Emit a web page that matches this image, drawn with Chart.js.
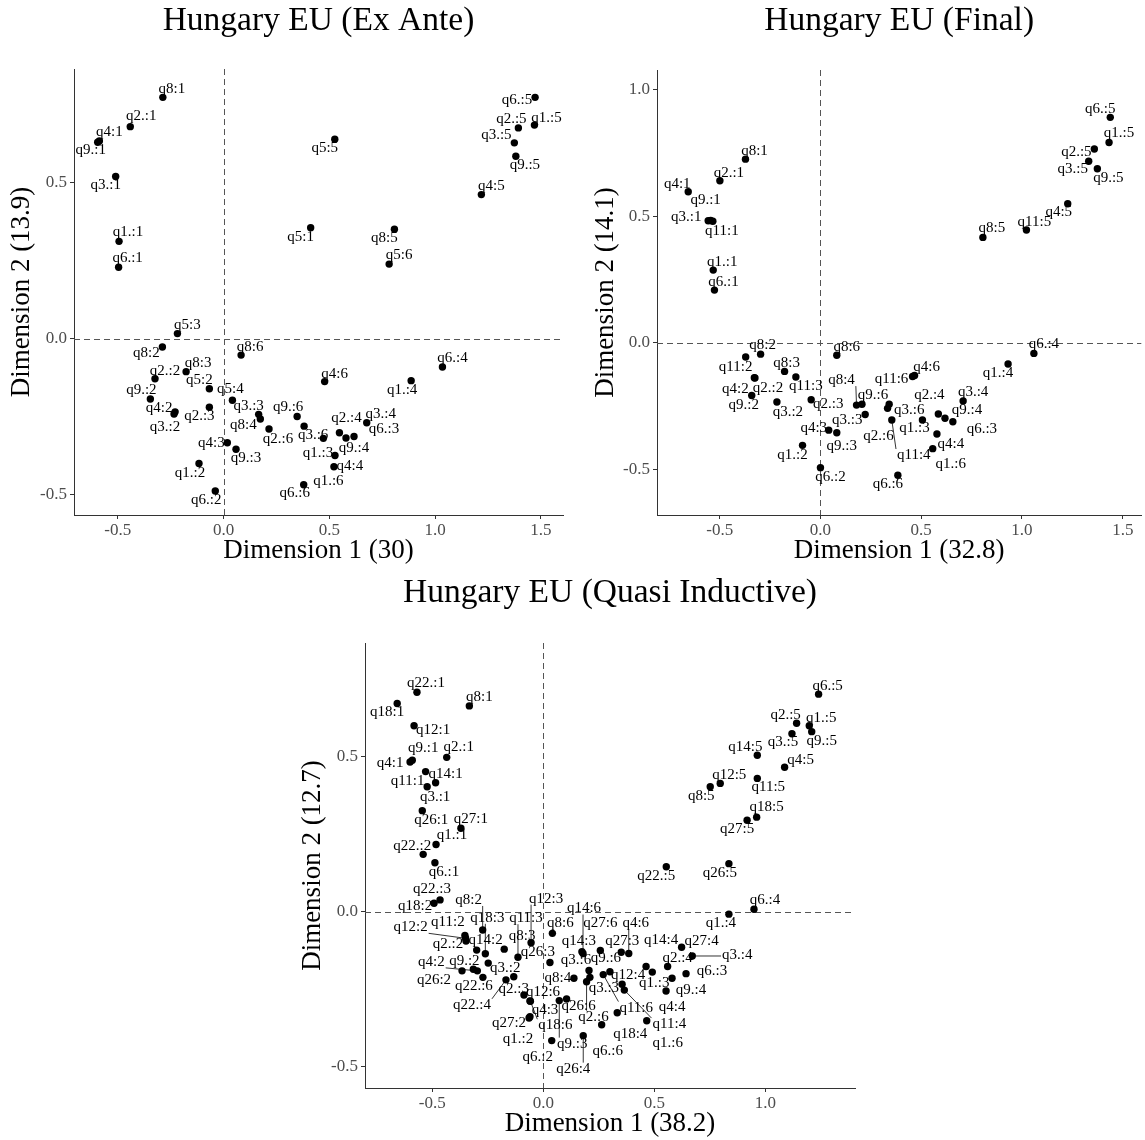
<!DOCTYPE html>
<html>
<head>
<meta charset="utf-8">
<script src="https://cdn.jsdelivr.net/npm/chart.js@4/dist/chart.umd.min.js"></script>
<style>
  html, body { margin: 0; padding: 0; background: #fff; }
  body { width: 1145px; height: 1140px; position: relative; overflow: hidden; }
  canvas { position: absolute; display: block; }
</style>
</head>
<body>
<canvas id="exAnte" width="575" height="575" style="left:0px;top:0px;width:575px;height:575px"></canvas>
<canvas id="final" width="560" height="575" style="left:585px;top:0px;width:560px;height:575px"></canvas>
<canvas id="quasi" width="570" height="565" style="left:290px;top:575px;width:570px;height:565px"></canvas>
<script>
// ---------- Hungary EU (Ex Ante) ----------
const exAnteNames = [
  "q1.:1","q1.:2","q1.:3","q1.:4","q1.:5","q1.:6",
  "q2.:1","q2.:2","q2.:3","q2.:4","q2.:5","q2.:6",
  "q3.:1","q3.:2","q3.:3","q3.:4","q3.:5","q3.:6",
  "q4:1","q4:2","q4:3","q4:4","q4:5","q4:6",
  "q5:1","q5:2","q5:3","q5:4","q5:5","q5:6",
  "q6.:1","q6.:2","q6.:3","q6.:4","q6.:5","q6.:6",
  "q8:1","q8:2","q8:3","q8:4","q8:5","q8:6",
  "q9.:1","q9.:2","q9.:3","q9.:4","q9.:5","q9.:6"
];
const exAnteDim1 = [
  -0.494,-0.116, 0.527, 0.887, 1.470, 0.472,
  -0.441,-0.324,-0.067, 0.548, 1.394, 0.215,
  -0.510,-0.234, 0.166, 0.677, 1.375, 0.381,
  -0.587,-0.229, 0.018, 0.522, 1.219, 0.478,
   0.412,-0.067,-0.218, 0.042, 0.526, 0.783,
  -0.496,-0.039, 0.617, 1.035, 1.473, 0.379,
  -0.287,-0.289,-0.177, 0.174, 0.808, 0.083,
  -0.595,-0.346, 0.059, 0.579, 1.382, 0.348
];
const exAnteDim2 = [
   0.312,-0.401,-0.375,-0.135, 0.685,-0.320,
   0.680,-0.129,-0.220,-0.302, 0.676,-0.290,
   0.520,-0.242,-0.243,-0.270, 0.628,-0.281,
   0.634,-0.235,-0.334,-0.411, 0.462,-0.138,
   0.356,-0.161, 0.016,-0.198, 0.640, 0.239,
   0.229,-0.489,-0.314,-0.091, 0.774,-0.469,
   0.774,-0.027,-0.106,-0.258, 0.351,-0.053,
   0.630,-0.194,-0.355,-0.319, 0.585,-0.250
];
const exAnteXTicks = [-0.5, 0.0, 0.5, 1.0, 1.5];
const exAnteYTicks = [-0.5, 0.0, 0.5];

// ---------- Hungary EU (Final) ----------
const finalNames = [
  "q1.:1","q1.:2","q1.:3","q1.:4","q1.:5","q1.:6",
  "q2.:1","q2.:2","q2.:3","q2.:4","q2.:5","q2.:6",
  "q3.:1","q3.:2","q3.:3","q3.:4","q3.:5","q3.:6",
  "q4:1","q4:2","q4:3","q4:4","q4:5","q4:6",
  "q6.:1","q6.:2","q6.:3","q6.:4","q6.:5","q6.:6",
  "q8:1","q8:2","q8:3","q8:4","q8:5","q8:6",
  "q9.:1","q9.:2","q9.:3","q9.:4","q9.:5","q9.:6",
  "q11:1","q11:2","q11:3","q11:4","q11:5","q11:6"
];
const finalDim1 = [
  -0.532,-0.089, 0.506, 0.931, 1.432, 0.557,
  -0.499,-0.325,-0.046, 0.585, 1.359, 0.333,
  -0.557,-0.216, 0.222, 0.708, 1.331, 0.341,
  -0.656,-0.328, 0.041, 0.578, 1.227, 0.467,
  -0.526, 0.000, 0.657, 1.059, 1.438, 0.384,
  -0.372,-0.297,-0.178, 0.179, 0.806, 0.081,
  -0.545,-0.341, 0.081, 0.618, 1.374, 0.206,
  -0.534,-0.371,-0.122, 0.354, 1.022, 0.457
];
const finalDim2 = [
   0.287,-0.405,-0.305,-0.084, 0.791,-0.418,
   0.640,-0.139,-0.225,-0.281, 0.765,-0.259,
   0.482,-0.234,-0.283,-0.230, 0.717,-0.243,
   0.596,-0.138,-0.345,-0.360, 0.549,-0.129,
   0.208,-0.493,-0.312,-0.042, 0.890,-0.523,
   0.725,-0.045,-0.113,-0.246, 0.416,-0.049,
   0.483,-0.208,-0.355,-0.298, 0.687,-0.243,
   0.480,-0.056,-0.135,-0.305, 0.445,-0.133
];
const finalXTicks = [-0.5, 0.0, 0.5, 1.0, 1.5];
const finalYTicks = [-0.5, 0.0, 0.5, 1.0];

// ---------- Hungary EU (Quasi Inductive) ----------
const quasiNames = [
  "q1.:1","q1.:2","q1.:3","q1.:4","q1.:5","q1.:6",
  "q2.:1","q2.:2","q2.:3","q2.:4","q2.:5","q2.:6",
  "q3.:1","q3.:2","q3.:3","q3.:4","q3.:5","q3.:6",
  "q4:1","q4:2","q4:3","q4:4","q4:5","q4:6",
  "q6.:1","q6.:2","q6.:3","q6.:4","q6.:5","q6.:6",
  "q8:1","q8:2","q8:3","q8:4","q8:5","q8:6",
  "q9.:1","q9.:2","q9.:3","q9.:4","q9.:5","q9.:6",
  "q11:1","q11:2","q11:3","q11:4","q11:5","q11:6",
  "q12:1","q12:2","q12:3","q12:4","q12:5","q12:6",
  "q14:1","q14:2","q14:3","q14:4","q14:5","q14:6",
  "q18:1","q18:2","q18:3","q18:4","q18:5","q18:6",
  "q22.:1","q22.:2","q22.:3","q22.:4","q22.:5","q22.:6",
  "q26:1","q26:2","q26:3","q26:4","q26:5","q26:6",
  "q27:1","q27:2","q27:3","q27:4","q27:5","q27:6"
];
const quasiDim1 = [
  -0.483,-0.064, 0.491, 0.836, 1.198, 0.466,
  -0.435,-0.348,-0.133, 0.560, 1.141, 0.195,
  -0.523,-0.248, 0.210, 0.671, 1.120, 0.206,
  -0.600,-0.297,-0.060, 0.553, 1.087, 0.385,
  -0.488, 0.038, 0.643, 0.949, 1.240, 0.263,
  -0.333,-0.273,-0.176, 0.138, 0.752, 0.041,
  -0.590,-0.315, 0.072, 0.580, 1.209, 0.300,
  -0.530,-0.353,-0.114, 0.365, 0.964, 0.270,
  -0.582,-0.350,-0.055, 0.355, 0.797,-0.087,
  -0.485,-0.300, 0.174, 0.463, 0.964, 0.179,
  -0.658,-0.492,-0.261, 0.333, 0.961,-0.058,
  -0.569,-0.541,-0.465,-0.168, 0.554,-0.272,
  -0.545,-0.366, 0.030, 0.180, 0.836, 0.105,
  -0.371,-0.060, 0.351, 0.623, 0.918, 0.257
];
const quasiDim2 = [
   0.217,-0.343,-0.195,-0.008, 0.600,-0.352,
   0.498,-0.095,-0.210,-0.177, 0.608,-0.226,
   0.403,-0.166,-0.212,-0.143, 0.574,-0.190,
   0.483,-0.191,-0.288,-0.256, 0.466,-0.135,
   0.158,-0.416,-0.200, 0.008, 0.702,-0.365,
   0.664,-0.059,-0.121,-0.215, 0.403,-0.070,
   0.489,-0.186,-0.287,-0.215, 0.581,-0.194,
   0.452,-0.077,-0.147,-0.253, 0.430,-0.203,
   0.600,-0.086,-0.100,-0.234, 0.414,-0.269,
   0.416,-0.124,-0.129,-0.177, 0.505,-0.135,
   0.672, 0.027,-0.136,-0.326, 0.305,-0.289,
   0.708, 0.185, 0.038,-0.220, 0.145,-0.212,
   0.326,-0.191,-0.164,-0.400, 0.155,-0.282,
   0.269,-0.339,-0.131,-0.115, 0.295,-0.125
];
const quasiXTicks = [-0.5, 0.0, 0.5, 1.0];
const quasiYTicks = [-0.5, 0.0, 0.5];

// ---------- text placement of the point labels (pixel shift from each point; third entry = leader line) ----------
const exAnteNudge = [
  [9,-9],[-9,9],[-17,-2],[-9,9],[12,-7],[5,43],
  [11,-11],[10,-8],[-10,9],[7,-15],[-7,-9],[9,10],
  [-10,9],[-9,13],[-10,-8],[14,-9],[-18,-8],[9,9],
  [10,-9],[-16,-4],[-16,0],[16,-1],[10,-9],[10,-8],
  [-10,9],[-10,-9],[10,-9],[-2,-11],[-10,9],[10,-9],
  [9,-9],[-9,9],[30,-7],[10,-9],[-18,3],[-9,8],
  [9,-8],[-16,6],[12,-9],[-17,6],[-10,9],[9,-8],
  [-7,8],[-9,-9],[10,9],[8,10],[9,9],[-9,-9]
];
const finalNudge = [
  [9,-8],[-10,10],[-8,8],[-10,9],[10,-9],[18,15],
  [9,-8],[13,10],[17,4],[-9,-19],[-18,3],[-9,28],
  [-22,-4],[11,10],[-18,6],[10,-9],[-16,8],[20,6],
  [-11,-8],[-19,11],[-15,-2],[14,10],[-9,8],[12,-8],
  [9,-8],[10,9],[29,7],[10,-9],[-10,-8],[-10,9],
  [9,-8],[2,-9],[2,-8],[-15,-25,1],[9,-9],[10,-8],
  [-5,-20],[-8,10],[5,13],[22,-8],[11,9],[11,-9],
  [9,10],[-10,10],[10,9],[22,35,1],[8,-8],[-21,3]
];
const quasiNudge = [
  [16,-9],[-11,21],[2,11],[-8,9],[12,-8],[21,22],
  [12,-10],[-18,3],[0,12],[10,-8],[-11,-8],[7,35,1],
  [8,10],[17,5],[14,11],[45,-1,1],[-9,8],[-13,-10],
  [-20,1],[-46,-9,1],[15,9],[6,16],[16,-7],[7,-30,1],
  [9,9],[-14,16],[26,-3],[11,-9],[9,-8],[6,26],
  [10,-9],[-14,-30,1],[18,-13],[-16,0],[-9,9],[8,-10],
  [11,-12],[-9,-8],[13,43,1],[19,12],[10,9],[-4,-14],
  [-18,9],[-17,-13],[8,-39,1],[45,34,1],[11,9],[33,33,1],
  [19,4],[-55,-11,1],[15,-44,1],[6,-9],[9,-8],[19,-3],
  [10,-9],[9,-10],[-3,-11],[15,-26],[-12,-8],[1,-45,1],
  [-10,9],[-19,3],[2,-36,1],[13,21],[10,-10],[25,24,1],
  [9,-9],[-11,-8],[-8,-11],[-34,25,1],[-10,9],[-9,9],
  [9,9],[-28,9],[-12,-10],[-10,33,1],[-9,9],[12,7],
  [10,-9],[-21,6],[1,-11],[20,-6],[-10,9],[0,-27]
];

const SERIF = "'Liberation Serif', 'Times New Roman', serif";

// dashed reference lines through the origin
const originLines = {
  id: 'originLines',
  beforeDatasetsDraw(chart) {
    const { ctx, chartArea: a, scales: { x, y } } = chart;
    const x0 = Math.round(x.getPixelForValue(0)) + 0.5;
    const y0 = Math.round(y.getPixelForValue(0)) + 0.5;
    ctx.save();
    ctx.strokeStyle = '#555';
    ctx.lineWidth = 1;
    ctx.setLineDash([6, 4]);
    ctx.beginPath();
    ctx.moveTo(x0, a.top); ctx.lineTo(x0, a.bottom);
    ctx.moveTo(a.left, y0); ctx.lineTo(a.right, y0);
    ctx.stroke();
    ctx.restore();
  }
};

// text label beside every point, with an optional leader line
const pointLabels = {
  id: 'pointLabels',
  afterDatasetsDraw(chart, args, opts) {
    const ctx = chart.ctx;
    const meta = chart.getDatasetMeta(0);
    ctx.save();
    ctx.font = '15px ' + SERIF;
    ctx.textAlign = 'center';
    ctx.textBaseline = 'middle';
    meta.data.forEach((pt, i) => {
      const [dx, dy, lead] = opts.nudges[i];
      const cx = pt.x + dx, cy = pt.y + dy;
      const txt = opts.names[i];
      if (lead) {
        const hw = ctx.measureText(txt).width / 2 + 1, hh = 6;
        const nx = Math.max(cx - hw, Math.min(pt.x, cx + hw));
        const ny = Math.max(cy - hh, Math.min(pt.y, cy + hh));
        ctx.beginPath();
        ctx.moveTo(pt.x, pt.y);
        ctx.lineTo(nx, ny);
        ctx.strokeStyle = '#000';
        ctx.lineWidth = 0.8;
        ctx.stroke();
      }
      ctx.fillStyle = '#000';
      ctx.fillText(txt, cx, cy);
    });
    ctx.restore();
  }
};

function axisStyle(tickValues, min, max, fixed, isX, titleText, titlePad) {
  return {
    type: 'linear',
    position: isX ? 'bottom' : 'left',
    min: min, max: max,
    afterBuildTicks(s) { s.ticks = tickValues.map(v => ({ value: v })); },
    afterFit(s) { if (isX) s.height = fixed; else s.width = fixed; },
    ticks: {
      autoSkip: false, maxRotation: 0, padding: isX ? 1 : 3,
      color: '#4d4d4d',
      font: { family: SERIF, size: 17 },
      callback: v => Number(v).toFixed(1)
    },
    grid: { display: true, drawOnChartArea: false, drawTicks: true, tickLength: 4, tickColor: '#333', tickWidth: 1 },
    border: { display: true, color: '#333', width: 1 },
    title: {
      display: true, text: titleText, color: '#000',
      font: { family: SERIF, size: 27, lineHeight: 1.2 },
      padding: titlePad
    }
  };
}

function buildPanel(id, p) {
  return new Chart(document.getElementById(id), {
    type: 'scatter',
    data: {
      datasets: [{
        data: p.dim1.map((v, i) => ({ x: v, y: p.dim2[i] })),
        pointRadius: 3.7, pointHoverRadius: 3.7,
        backgroundColor: '#000', borderWidth: 0
      }]
    },
    options: {
      responsive: false, animation: false, events: [],
      layout: { padding: { left: 0, right: p.padRight, top: 0, bottom: 0 } },
      plugins: {
        legend: { display: false },
        tooltip: { enabled: false },
        title: {
          display: true, text: p.title, color: '#000', fullSize: false,
          font: { family: SERIF, size: 33.5, weight: 'normal', lineHeight: 1.0 },
          padding: { top: p.titleTop, bottom: p.titleBottom }
        },
        pointLabels: { names: p.names, nudges: p.nudges }
      },
      scales: {
        x: axisStyle(p.xTicks, p.xMin, p.xMax, p.bottomH, true, p.xTitle, { top: 0, bottom: p.xTitlePad }),
        y: axisStyle(p.yTicks, p.yMin, p.yMax, p.leftW, false, p.yTitle, { top: p.yTitlePad, bottom: 0 })
      }
    },
    plugins: [originLines, pointLabels]
  });
}

buildPanel('exAnte', {
  names: exAnteNames, dim1: exAnteDim1, dim2: exAnteDim2, nudges: exAnteNudge,
  xTicks: exAnteXTicks, yTicks: exAnteYTicks,
  xMin: -0.707, xMax: 1.605, yMin: -0.566, yMax: 0.865,
  title: 'Hungary EU (Ex Ante)', xTitle: 'Dimension 1 (30)', yTitle: 'Dimension 2 (13.9)',
  padRight: 12, leftW: 74, bottomH: 60, titleTop: 4.25, titleBottom: 31.25,
  xTitlePad: 7.8, yTitlePad: 5.8
});

buildPanel('final', {
  names: finalNames, dim1: finalDim1, dim2: finalDim2, nudges: finalNudge,
  xTicks: finalXTicks, yTicks: finalYTicks,
  xMin: -0.811, xMax: 1.592, yMin: -0.680, yMax: 1.077,
  title: 'Hungary EU (Final)', xTitle: 'Dimension 1 (32.8)', yTitle: 'Dimension 2 (14.1)',
  padRight: 2, leftW: 72, bottomH: 60, titleTop: 4.25, titleBottom: 32.25,
  xTitlePad: 7.8, yTitlePad: 4.8
});

buildPanel('quasi', {
  names: quasiNames, dim1: quasiDim1, dim2: quasiDim2, nudges: quasiNudge,
  xTicks: quasiXTicks, yTicks: quasiYTicks,
  xMin: -0.803, xMax: 1.404, yMin: -0.569, yMax: 0.867,
  title: 'Hungary EU (Quasi Inductive)', xTitle: 'Dimension 1 (38.2)', yTitle: 'Dimension 2 (12.7)',
  padRight: 5, leftW: 75, bottomH: 52, titleTop: 1.25, titleBottom: 33.25,
  xTitlePad: 0, yTitlePad: 6.8
});
</script>
</body>
</html>
